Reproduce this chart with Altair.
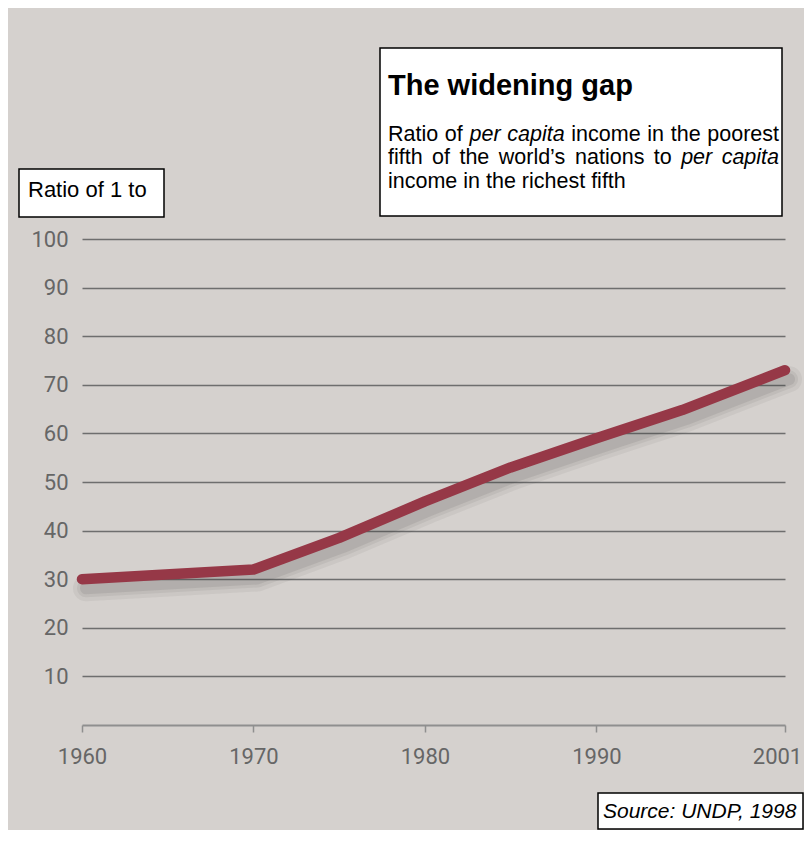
import altair as alt
import pandas as pd

# ---- data ----
years = [1960, 1970, 1975, 1980, 1985, 1990, 1995, 2001]
ratio = [30, 32, 38.5, 46, 53, 59, 64.8, 73]
x_ticks = [1960, 1970, 1980, 1990, 2001]
y_ticks = [10, 20, 30, 40, 50, 60, 70, 80, 90, 100]

title_text = "The widening gap"
# subtitle words (justified lines), italic flags
line1_words = ["Ratio", "of", "per", "capita", "income", "in", "the", "poorest"]
line1_ital = [False, False, True, True, False, False, False, False]
line2_words = ["fifth", "of", "the", "world\u2019s", "nations", "to", "per", "capita"]
line2_ital = [False, False, False, False, False, False, True, True]
line3_text = "income in the richest fifth"
y_title = "Ratio of 1 to"
source = "Source: UNDP, 1998"

df = pd.DataFrame({"year": years, "ratio": ratio})

NARROW = "Roboto, Liberation Sans Narrow, sans-serif"
SANS = "Liberation Sans, Arial, Helvetica, sans-serif"
BG = "#d5d1ce"
LINE = "#963847"

W, H = 703, 486

# Arial / Liberation Sans advance widths (1/1000 em) for justifying the subtitle
ADV = {"a": 556, "b": 556, "c": 500, "d": 556, "e": 556, "f": 278, "g": 556, "h": 556,
       "i": 222, "j": 222, "k": 500, "l": 222, "m": 833, "n": 556, "o": 556, "p": 556,
       "q": 556, "r": 333, "s": 500, "t": 278, "u": 556, "v": 500, "w": 722, "x": 500,
       "y": 500, "z": 500, "R": 722, "\u2019": 222, " ": 278}


def word_width(w, size):
    return sum(ADV.get(c, 556) for c in w) * size / 1000.0


def justify(words, x0, x1, size):
    widths = [word_width(w, size) for w in words]
    gap = (x1 - x0 - sum(widths)) / (len(words) - 1)
    xs_, x = [], x0
    for wd in widths:
        xs_.append(x)
        x += wd + gap
    return xs_


xs = alt.X("year:Q", scale=alt.Scale(domain=[1960, 2001], nice=False, zero=False),
           axis=alt.Axis(values=x_ticks, format="d", title=None, grid=False,
                         domain=True, domainColor="#8f8f8f", domainWidth=2,
                         ticks=True, tickColor="#8f8f8f", tickSize=7, tickWidth=1.5,
                         labelFont=NARROW, labelFontSize=22, labelColor="#666666",
                         labelPadding=14, labelFlush=False,
                         labelOffset={"condition": {"test": "datum.value == 2001", "value": -8},
                                      "value": 0}))
ys = alt.Y("ratio:Q", scale=alt.Scale(domain=[0, 100], nice=False),
           axis=alt.Axis(values=y_ticks, title=None, grid=True, gridColor="#6e6e6e",
                         gridWidth=1.6, domain=False, ticks=False,
                         labelFont=NARROW, labelFontSize=22, labelColor="#666666",
                         labelPadding=14))

base = alt.Chart(df)

shadows = [
    base.mark_line(color="#3a3a3a", opacity=op, strokeWidth=sw, strokeCap="round",
                   strokeJoin="round", xOffset=4, yOffset=9).encode(x=xs, y=ys)
    for op, sw in [(0.06, 26), (0.08, 18), (0.10, 12)]
]

line = base.mark_line(color=LINE, strokeWidth=10.5, strokeCap="round",
                      strokeJoin="round").encode(x=xs, y=ys)

one = alt.Data(values=[{"k": 1}])


def box(x, x2, y, y2):
    return alt.Chart(one).mark_rect(fill="white", stroke="black", strokeWidth=1.5).encode(
        x=alt.value(x), x2=alt.value(x2), y=alt.value(y), y2=alt.value(y2))


def txt(s, x, y, size, align="left", weight="normal", style="normal", font=SANS):
    return alt.Chart(one).mark_text(align=align, baseline="alphabetic", font=font,
                                    fontSize=size, fontWeight=weight, fontStyle=style,
                                    color="black").encode(
        x=alt.value(x), y=alt.value(y), text=alt.value(s))


SUB = 21.5
# plot origin sits at page (82, 239)
line1_x = justify(line1_words, 306, 697, SUB)
line2_x = justify(line2_words, 306, 697, SUB)

annotations = [box(298, 700, -191, -23),
               txt(title_text, 306, -144, 29, weight="bold")]
for w, it, x in zip(line1_words, line1_ital, line1_x):
    annotations.append(txt(w, x, -98, SUB, style="italic" if it else "normal"))
for w, it, x in zip(line2_words, line2_ital, line2_x):
    annotations.append(txt(w, x, -75, SUB, style="italic" if it else "normal"))
annotations += [
    txt(line3_text, 306, -51, SUB),
    box(-63, 82, -70, -22),
    txt(y_title, -54, -42, 22),
    box(516, 721, 554, 590),
    txt(source, 521, 579, 21, style="italic"),
]

chart = alt.layer(*shadows, line, *annotations).properties(
    width=W, height=H,
    background=BG,
    padding={"left": 74, "top": 231, "right": 19, "bottom": 105},
    autosize=alt.AutoSizeParams(type="none"),
).configure_view(strokeWidth=0)

chart.save("out.html", embed_options={"renderer": "svg", "actions": False})
